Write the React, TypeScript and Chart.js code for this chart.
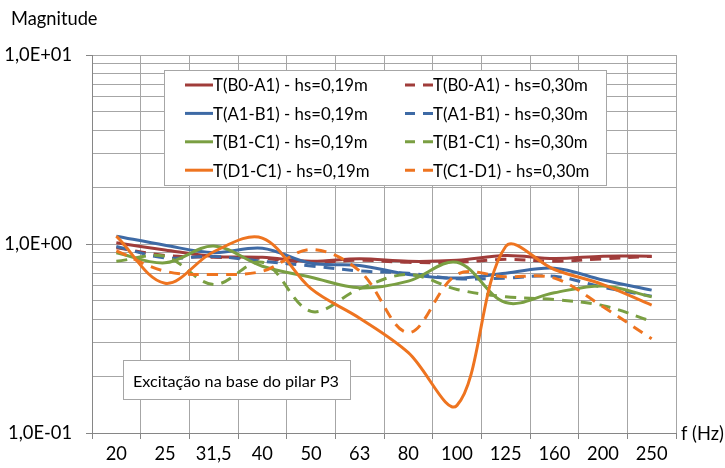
import React, { useEffect, useRef } from 'react';
import { Chart, registerables } from 'chart.js';

Chart.register(...registerables);

// ---- Data ----
const categories = ['20', '25', '31,5', '40', '50', '63', '80', '100', '125', '160', '200', '250'];

const tB0A1_019 = [1.015, 0.93, 0.86, 0.85, 0.81, 0.835, 0.81, 0.82, 0.87, 0.838, 0.862, 0.862];
const tB0A1_030 = [0.955, 0.87, 0.85, 0.84, 0.80, 0.82, 0.80, 0.80, 0.83, 0.81, 0.835, 0.86];
const tA1B1_019 = [1.10, 0.985, 0.90, 0.95, 0.79, 0.77, 0.69, 0.66, 0.70, 0.745, 0.645, 0.57];
const tA1B1_030 = [0.97, 0.845, 0.86, 0.81, 0.765, 0.72, 0.70, 0.655, 0.66, 0.675, 0.59, 0.53];
const tB1C1_019 = [0.898, 0.795, 0.975, 0.763, 0.667, 0.586, 0.636, 0.80, 0.49, 0.552, 0.60, 0.526];
const tB1C1_030 = [0.81, 0.86, 0.61, 0.80, 0.44, 0.58, 0.69, 0.575, 0.526, 0.508, 0.472, 0.39];
const tD1C1_019 = [1.10, 0.62, 0.91, 1.075, 0.58, 0.405, 0.266, 0.14, 0.97, 0.733, 0.61, 0.475];
const tC1D1_030 = [0.92, 0.718, 0.69, 0.718, 0.935, 0.72, 0.34, 0.69, 0.67, 0.66, 0.465, 0.315];

const seriesLabels = [
  'T(B0-A1) - hs=0,19m',
  'T(B0-A1) - hs=0,30m',
  'T(A1-B1) - hs=0,19m',
  'T(A1-B1) - hs=0,30m',
  'T(B1-C1) - hs=0,19m',
  'T(B1-C1) - hs=0,30m',
  'T(D1-C1) - hs=0,19m',
  'T(C1-D1) - hs=0,30m',
];
const seriesValues = [tB0A1_019, tB0A1_030, tA1B1_019, tA1B1_030, tB1C1_019, tB1C1_030, tD1C1_019, tC1D1_030];
const seriesColors = ['#A03C3A', '#A03C3A', '#3E6AA5', '#3E6AA5', '#7A9F42', '#7A9F42', '#EE7420', '#EE7420'];
const seriesDashed = [false, true, false, true, false, true, false, true];

const yGridValues = [0.1, 0.2, 0.3, 0.4, 0.5, 0.6, 0.7, 0.8, 0.9, 1, 2, 3, 4, 5, 6, 7, 8, 9, 10];
const yDecadeValues = [0.1, 1, 10];
const yDecadeLabels = ['1,0E-01', '1,0E+00', '1,0E+01'];

const yTitle = 'Magnitude';
const xTitle = 'f (Hz)';
const noteText = 'Excitação na base do pilar P3';

const FONT = 'Lato';
const FS = 18.3;
const LEGEND_FS = 16.8;
const NOTE_FS = 16.2;

function decadeIndex(v: number): number {
  for (let i = 0; i < yDecadeValues.length; i++) {
    if (Math.abs(v - yDecadeValues[i]) < 1e-9 * yDecadeValues[i]) return i;
  }
  return -1;
}

const extrasPlugin = {
  id: 'extras',
  afterDraw(chart: any) {
    const ctx = chart.ctx as CanvasRenderingContext2D;
    ctx.save();
    ctx.font = `${FS}px ${FONT}`;
    ctx.fillStyle = '#000';
    ctx.textBaseline = 'middle';
    ctx.textAlign = 'left';
    ctx.fillText(yTitle, 11, 19);
    ctx.fillText(xTitle, 681, 434);

    // legend box
    const lx = 164.5, ly = 70.5, lw = 442, lh = 115;
    ctx.fillStyle = '#fff';
    ctx.fillRect(lx, ly, lw, lh);
    ctx.strokeStyle = '#a6a6a6';
    ctx.lineWidth = 1;
    ctx.strokeRect(lx, ly, lw, lh);
    ctx.font = `${LEGEND_FS}px ${FONT}`;
    chart.data.datasets.forEach((ds: any, i: number) => {
      const col = i % 2;
      const row = Math.floor(i / 2);
      const y = 85 + row * 28.4;
      const x0 = col === 0 ? 185 : 405;
      ctx.beginPath();
      ctx.setLineDash(ds.borderDash && ds.borderDash.length ? [10, 8] : []);
      ctx.strokeStyle = ds.borderColor;
      ctx.lineWidth = 3;
      ctx.lineCap = 'butt';
      ctx.moveTo(x0, y);
      ctx.lineTo(x0 + 28, y);
      ctx.stroke();
      ctx.setLineDash([]);
      ctx.fillStyle = '#000';
      ctx.fillText(ds.label, x0 + 28, y + 1);
    });

    // note box
    const nx = 123.5, ny = 360.5, nw = 227, nh = 39;
    ctx.fillStyle = '#fff';
    ctx.fillRect(nx, ny, nw, nh);
    ctx.strokeStyle = '#a6a6a6';
    ctx.lineWidth = 1;
    ctx.strokeRect(nx, ny, nw, nh);
    ctx.fillStyle = '#000';
    ctx.font = `${NOTE_FS}px ${FONT}`;
    ctx.fillText(noteText, 133, 382);
    ctx.restore();
  },
};

export default function App() {
  const ref = useRef<HTMLCanvasElement | null>(null);

  useEffect(() => {
    if (!ref.current) return;
    const datasets = seriesValues.map((vals, i) => ({
      label: seriesLabels[i],
      data: vals,
      borderColor: seriesColors[i],
      backgroundColor: seriesColors[i],
      borderWidth: 3,
      borderDash: seriesDashed[i] ? [11, 8] : [],
      pointRadius: 0,
      tension: 0.35,
      fill: false,
      order: seriesValues.length - i,
    }));

    const chart = new Chart(ref.current, {
      type: 'line',
      data: { labels: categories, datasets },
      options: {
        animation: false,
        responsive: false,
        devicePixelRatio: 1,
        layout: { padding: { top: 55, right: 49, left: 0, bottom: 0 } },
        plugins: {
          legend: { display: false },
          tooltip: { enabled: false },
        },
        scales: {
          x: {
            type: 'category',
            offset: true,
            afterFit: (s: any) => { s.height = 35; },
            grid: {
              offset: true,
              color: '#a6a6a6',
              tickColor: '#868686',
              tickLength: 6,
              lineWidth: 1,
            },
            border: { color: '#868686', width: 1 },
            ticks: {
              autoSkip: false,
              maxRotation: 0,
              color: '#000',
              padding: 4,
              font: { family: FONT, size: FS },
            },
          },
          y: {
            type: 'logarithmic',
            min: 0.1,
            max: 10,
            afterFit: (s: any) => { s.width = 92; },
            afterBuildTicks: (s: any) => {
              s.ticks = yGridValues.map((v) => ({ value: v }));
            },
            grid: {
              color: '#a6a6a6',
              lineWidth: 1,
              tickLength: 6,
              tickColor: (c: any) => (c.tick && decadeIndex(c.tick.value) >= 0 ? '#868686' : 'rgba(0,0,0,0)'),
            },
            border: { color: '#868686', width: 1 },
            ticks: {
              autoSkip: false,
              color: '#000',
              padding: 14,
              font: { family: FONT, size: FS },
              callback: (v: any) => {
                const k = decadeIndex(Number(v));
                return k >= 0 ? yDecadeLabels[k] : '';
              },
            },
          },
        },
      },
      plugins: [extrasPlugin],
    });
    return () => chart.destroy();
  }, []);

  return (
    <div style={{ position: 'absolute', left: 0, top: 0, width: 725, height: 468, background: '#fff' }}>
      <canvas ref={ref} width={725} height={468} style={{ width: 725, height: 468, display: 'block' }} />
    </div>
  );
}
